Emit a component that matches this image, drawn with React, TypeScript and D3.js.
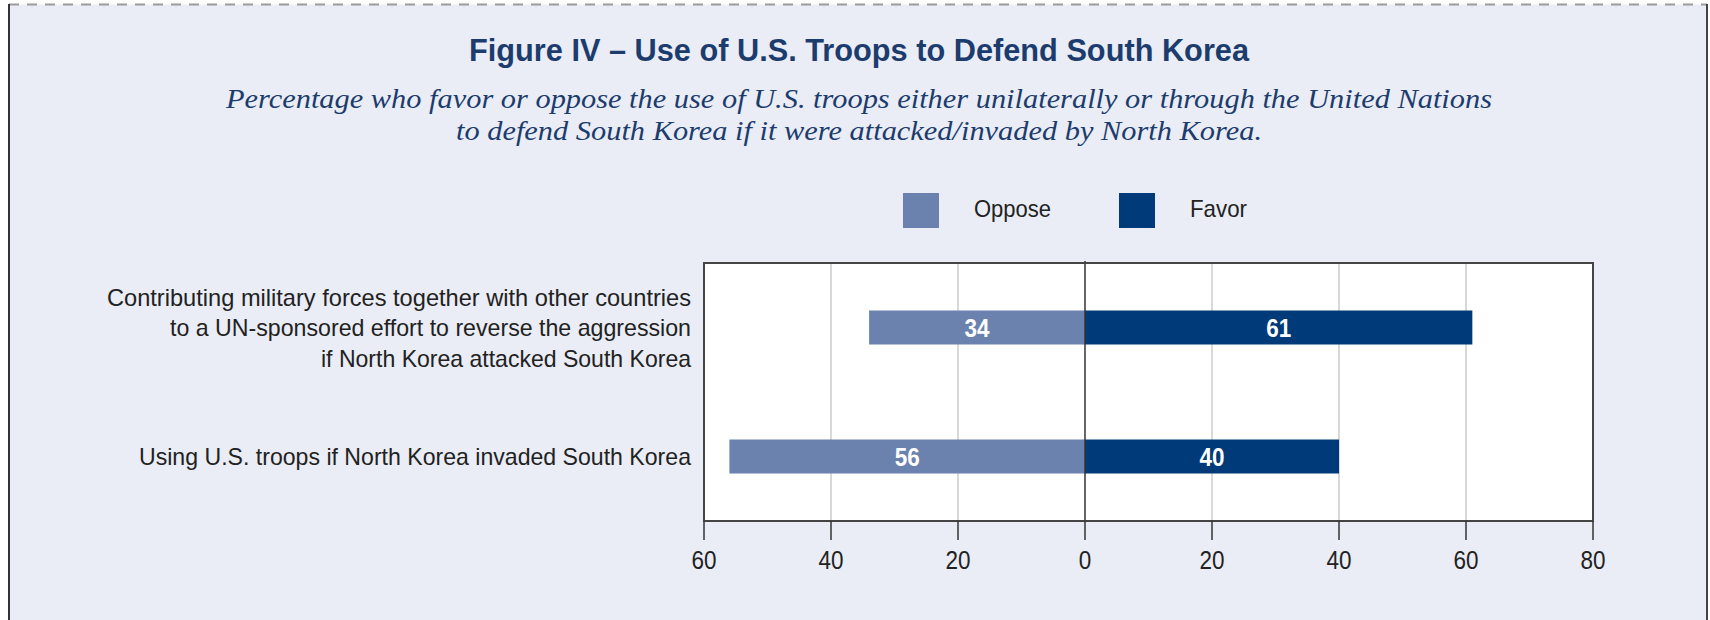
import React from 'react'
import * as d3 from 'd3'

const categories = [
  ['Contributing military forces together with other countries', 'to a UN-sponsored effort to reverse the aggression', 'if North Korea attacked South Korea'],
  ['Using  U.S. troops if North Korea invaded South Korea'],
]
const oppose = [34, 56]
const favor = [61, 40]
const xTicks = [-60, -40, -20, 0, 20, 40, 60, 80]

const W = 1710
const H = 620
const plot = { left: 704, right: 1593, top: 263, bottom: 521 }
const navy = '#1d3c6e'
const opposeColor = '#6b82ae'
const favorColor = '#003a78'
const sans = '"Liberation Sans Narrow", "Liberation Sans", Arial, sans-serif'
// the source uses a condensed face; squeeze the wider installed one to the widths seen
const labelWidths = [[584, 521, 370], [552]]
const squeeze = { lengthAdjust: 'spacingAndGlyphs' as const }

export default function App() {
  const x = d3.scaleLinear().domain([-60, 80]).range([plot.left, plot.right])
  const y = d3.scalePoint<number>().domain([0, 1]).range([plot.top, plot.bottom]).padding(0.5)
  const barH = 34
  const grid = xTicks.filter(t => t !== 0 && t !== -60 && t !== 80)
  const digitW = (s: string) => s.length * 12.5

  return (
    <svg width={W} height={H} style={{ position: 'absolute', left: 0, top: 0 }}>
      <rect x={0} y={0} width={W} height={H} fill="#ffffff" />
      <rect x={9} y={4.5} width={1698} height={H} fill="#eaedf5" />
      <line x1={9} x2={1707} y1={4.5} y2={4.5} stroke="#9a9a9a" strokeWidth={2} strokeDasharray="10 8" />
      <line x1={9} x2={9} y1={4} y2={H} stroke="#333" strokeWidth={2} />
      <line x1={1707} x2={1707} y1={4} y2={H} stroke="#444" strokeWidth={2} />

      <text x={859} y={61} textAnchor="middle" fontFamily={sans} fontWeight="bold" fontSize={32} fill={navy} textLength={780} {...squeeze}>
        Figure IV – Use of U.S. Troops to Defend South Korea
      </text>
      <g fontFamily='"Liberation Serif", "DejaVu Serif", serif' fontStyle="italic" fontSize={27} fill={navy} textAnchor="middle">
        <text x={859} y={108} textLength={1266} {...squeeze}>
          Percentage who favor or oppose the use of U.S. troops either unilaterally or through the United Nations
        </text>
        <text x={859} y={140} textLength={806} {...squeeze}>
          to defend South Korea if it were attacked/invaded by North Korea.
        </text>
      </g>

      {/* legend */}
      <g fontFamily={sans} fontSize={24} fill="#222">
        <rect x={903} y={193} width={36} height={35} fill={opposeColor} />
        <text x={974} y={217} textLength={77} {...squeeze}>Oppose</text>
        <rect x={1119} y={193} width={36} height={35} fill={favorColor} />
        <text x={1190} y={217} textLength={57} {...squeeze}>Favor</text>
      </g>

      {/* plot area */}
      <rect x={plot.left} y={plot.top} width={plot.right - plot.left} height={plot.bottom - plot.top} fill="#fff" />
      {grid.map(t => (
        <line key={t} x1={x(t)} x2={x(t)} y1={plot.top} y2={plot.bottom} stroke="#c4c4c4" strokeWidth={1.3} />
      ))}

      {oppose.map((v, i) => (
        <g key={'o' + i}>
          <rect x={x(-v)} y={(y(i) ?? 0) - barH / 2} width={x(0) - x(-v)} height={barH} fill={opposeColor} />
          <text x={(x(-v) + x(0)) / 2} y={(y(i) ?? 0) + 9} textAnchor="middle" fontFamily={sans} fontWeight="bold" fontSize={25} fill="#fff" textLength={25} {...squeeze}>{v}</text>
        </g>
      ))}
      {favor.map((v, i) => (
        <g key={'f' + i}>
          <rect x={x(0)} y={(y(i) ?? 0) - barH / 2} width={x(v) - x(0)} height={barH} fill={favorColor} />
          <text x={(x(v) + x(0)) / 2} y={(y(i) ?? 0) + 9} textAnchor="middle" fontFamily={sans} fontWeight="bold" fontSize={25} fill="#fff" textLength={25} {...squeeze}>{v}</text>
        </g>
      ))}

      <line x1={x(0)} x2={x(0)} y1={plot.top - 2} y2={plot.bottom} stroke="#333" strokeWidth={1.5} />
      <rect x={plot.left} y={plot.top} width={plot.right - plot.left} height={plot.bottom - plot.top} fill="none" stroke="#444" strokeWidth={2} />

      {/* x axis */}
      {xTicks.map(t => (
        <g key={t}>
          <line x1={x(t)} x2={x(t)} y1={plot.bottom} y2={plot.bottom + 19} stroke="#333" strokeWidth={1.5} />
          <text x={x(t)} y={569} textAnchor="middle" fontFamily={sans} fontSize={26} fill="#222" textLength={digitW(String(Math.abs(t)))} {...squeeze}>{Math.abs(t)}</text>
        </g>
      ))}

      {/* category labels */}
      <g fontFamily={sans} fontSize={24} fill="#222" textAnchor="end">
        {categories.map((lines, i) =>
          lines.map((l, j) => (
            <text key={i + '-' + j} x={691} y={(y(i) ?? 0) + (j - (lines.length - 1) / 2) * 30.5 + 8.5} textLength={labelWidths[i][j]} {...squeeze}>{l}</text>
          ))
        )}
      </g>
    </svg>
  )
}
